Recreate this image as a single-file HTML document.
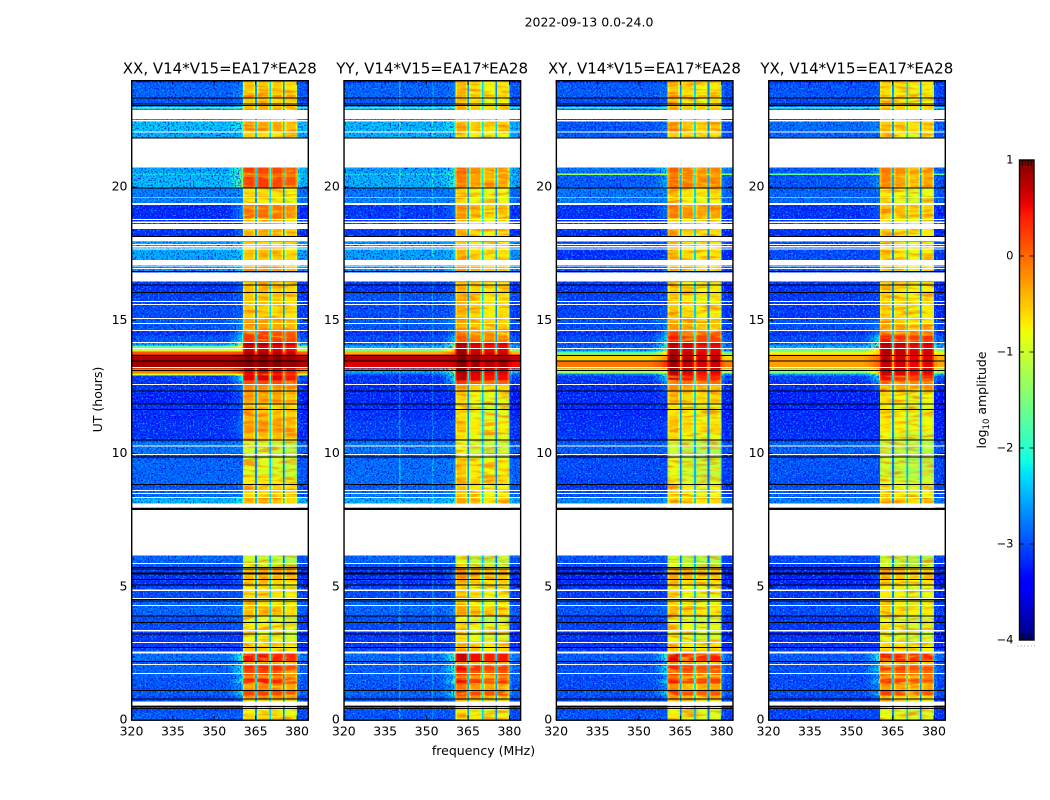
<!DOCTYPE html>
<html>
<head>
<meta charset="utf-8">
<title>2022-09-13 0.0-24.0</title>
<style>
html,body{margin:0;padding:0;background:#fff;width:1050px;height:800px;overflow:hidden}
svg{display:block}
text{font-family:"DejaVu Sans","Liberation Sans",sans-serif;fill:#000}
</style>
</head>
<body>
<svg id="chart" xmlns="http://www.w3.org/2000/svg" width="1050" height="800" viewBox="0 0 1050 800">
<defs>
<filter id="speckleDark" x="0" y="0" width="100%" height="100%" color-interpolation-filters="sRGB">
<feTurbulence type="fractalNoise" baseFrequency="0.6" numOctaves="1" seed="4"/>
<feColorMatrix type="matrix" values="0 0 0 0 0  0 0 0 0 0  0 0 0 0 0.88  4 0 0 0 -1.85"/>
</filter>
<filter id="speckleLight" x="0" y="0" width="100%" height="100%" color-interpolation-filters="sRGB">
<feTurbulence type="fractalNoise" baseFrequency="0.6" numOctaves="1" seed="11"/>
<feColorMatrix type="matrix" values="0 0 0 0 0  0 0 0 0 0.75  0 0 0 0 1  0 4 0 0 -2.05"/>
</filter>
<filter id="bandWarm" x="0" y="0" width="100%" height="100%" color-interpolation-filters="sRGB">
<feTurbulence type="fractalNoise" baseFrequency="0.05 0.28" numOctaves="2" seed="7"/>
<feColorMatrix type="matrix" values="0 0 0 0 1  0 0 0 0 0.35  0 0 0 0 0  3.5 0 0 0 -1.6"/>
</filter>
<filter id="bandCool" x="0" y="0" width="100%" height="100%" color-interpolation-filters="sRGB">
<feTurbulence type="fractalNoise" baseFrequency="0.05 0.28" numOctaves="2" seed="19"/>
<feColorMatrix type="matrix" values="0 0 0 0 0.95  0 0 0 0 1  0 0 0 0 0.1  0 3.5 0 0 -1.85"/>
</filter>
</defs>
<text x="589" y="26.5" font-size="12.5" text-anchor="middle">2022-09-13 0.0-24.0</text>
<text x="0" y="0" font-size="12.5" text-anchor="middle" transform="translate(102 399.5) rotate(-90)">UT (hours)</text>
<text x="483.5" y="755" font-size="12.5" text-anchor="middle">frequency (MHz)</text>
<text x="0" y="0" font-size="12.5" text-anchor="middle" transform="translate(986 400) rotate(-90)">log<tspan font-size="8.5" dy="3">10</tspan><tspan dy="-3"> amplitude</tspan></text>
<g id="panels"></g>
<g id="colorbar"></g>
</svg>
<script>
// Axis domains
const freqMin = 320, freqMax = 384, hourMin = 0, hourMax = 24, levelMin = -4, levelMax = 1;
const freqTicks = [320, 335, 350, 365, 380];
const hourTicks = [0, 5, 10, 15, 20];
const levelTicks = [1, 0, -1, -2, -3, -4];
const panelTitles = ['XX, V14*V15=EA17*EA28', 'YY, V14*V15=EA17*EA28', 'XY, V14*V15=EA17*EA28', 'YX, V14*V15=EA17*EA28'];

// Time rows (start hour of each row)
const rowStartHours = [
0,.28,.51,.73,.92,1.11,1.37,1.56,1.67,1.86,
2.05,2.20,2.57,2.87,3.21,3.36,3.62,3.88,4.26,4.56,
4.86,5.05,5.27,5.50,5.72,5.83,6.17,7.88,8.13,8.35,
8.65,8.84,9.10,9.81,10.0,10.45,10.79,11.24,11.61,11.84,
12.29,12.59,12.74,12.93,13.0,13.19,13.45,13.71,13.83,13.94,
14.05,14.17,14.43,14.58,14.84,15.07,15.57,16.02,16.28,16.43,
16.83,17.07,17.26,17.63,17.94,18.14,18.43,18.61,18.84,19.32,
19.40,19.62,19.96,20.37,20.45,20.51,20.73,21.82,22.10,22.45,
22.55,22.89,22.95,23.0,23.11,23.35,23.45,23.9];

// Frequency channels
const channelEdges = [320,330,340,340.5,350,352,352.5,354,355,356,357,358,359,360,360.4,361,364.2,364.8,365.4,366,369.4,370,370.6,371.2,374.4,374.9,375.5,376.1,379.4,380,381,384];
const channelBand = [0,0,0,0,0,0,0,0,0,0,0,0,0,0, 1,1,1,-1, 2,2,2,-1, 3,3,3,-1, 4,4,4, 0,0];
const channelTrim = [0,0,0,0,0,0,0,0,0,0,0,0,0,0, -.3,0,-.3,-.1, -.3,0,-.3,.2, -.3,0,-.3,-.2, -.3,0,-.4, -.05,-.1];
const channelLeak = [0,0,0,0,0,0,0,.02,.1,.2,.35,.5,.7,.95, 0,0,0,0, 0,0,0,0, 0,0,0,0, 0,0,0, .35,.12];

// log10 amplitude read per row: XX
const xxBackground = [
-2.75,-2.85,-2.9,-2.85,-2.75,-2.8,-2.8,-2.75,-2.7,-2.7,
-2.7,-2.65,-2.95,-2.95,-2.95,-2.85,-2.85,-2.7,-2.7,-2.85,
-2.9,-3,-3,-2.95,-2.8,-2.7,-3,-2.2,-2.2,-2.65,
-2.8,-2.7,-2.7,-2.85,-2.6,-3,-3,-3.05,-3,-3.1,
-3,-3,-2.95,-1,-.1,.85,.8,.1,-1,-1.7,
-2.4,-2.8,-3,-2.8,-2.75,-2.85,-2.9,-3,-2.9,-3,
-2.4,-3,-2.3,-2.3,-3,-3,-3,-3,-3.05,-3,
-2.5,-2.55,-2.2,-2.25,-2,-2.3,-3,-2.25,-2.15,-2.4,
-3,-2.4,-1.6,-2.45,-2.8,-2.7,-2.7,-2.9];
const xxBand = [
-.75,-.9,-1,-.4,.15,-.3,.35,-.3,.1,.25,
-.5,.4,-.7,-.9,-1,-.8,-1,-.55,-.8,-.75,
-.85,-.6,-.5,-.4,-1,-1.15,-3,-.5,-.5,-.7,
-.6,-.8,-1,-1.1,-1.1,-.55,-.35,-.5,-.6,-.4,
-.3,.1,.5,.4,.5,.95,.95,.7,.55,.5,
.7,.2,.15,-.4,-.4,-.65,-.6,-.55,-.6,-3,
-.4,-3,-.55,-.7,-3,-.45,-3,-.6,-.15,-3,
-.8,-.7,.15,-.1,-.1,.15,-3,-.75,-.4,-.7,
-3,-.5,-.5,-.55,-.65,-.3,-.6,-.5];
const xxBandOffset = [.1, .1, .05, -.05];

// YY
const yyBackground = [
-2.8,-2.8,-2.9,-2.8,-2.7,-2.8,-2.75,-2.75,-2.7,-2.7,
-2.7,-2.65,-2.95,-2.95,-3,-2.85,-2.85,-2.7,-2.7,-2.85,
-2.9,-3,-3,-3,-2.8,-2.7,-3,-2.25,-2.25,-2.6,
-2.75,-2.65,-2.65,-2.8,-2.6,-2.9,-2.9,-3,-3.05,-3.05,
-3.05,-3,-3,-2.8,-2.3,.6,.75,-.4,-1.5,-2.2,
-2.7,-2.85,-3,-2.8,-2.75,-2.85,-2.8,-3,-2.9,-3,
-2.4,-3,-2.35,-2.4,-3,-2.95,-3,-2.95,-2.95,-3,
-2.5,-2.6,-2.25,-2.3,-2,-2.35,-3,-2.25,-2.2,-2.4,
-3,-2.4,-1.8,-2.45,-2.75,-2.7,-2.7,-2.9];
const yyBand = [
-.7,-.85,-1,-.3,.2,-.25,.35,-.3,.15,.3,
-.45,.5,-.6,-.85,-1,-.8,-1,-.5,-.75,-.7,
-.8,-.55,-.45,-.35,-1,-1.1,-3,-.5,-.5,-.7,
-.7,-.55,-.7,-1,-1,-.85,-.7,-.85,-.9,-.8,
-.55,.1,.55,.6,.65,.9,.9,.7,.6,.55,
.65,-.1,-.3,-.5,-.5,-.6,-.6,-.6,-.6,-3,
-.45,-3,-.6,-.7,-3,-.6,-3,-.7,-.45,-3,
-.8,-.75,-.3,-.35,-.3,-.2,-3,-.75,-.5,-.7,
-3,-.55,-.55,-.6,-.7,-.5,-.65,-.6];
const yyBandOffset = [.2, 0, -.1, -.05];
const yySpurChannels = [2, 5];
const yySpurLevels = [.5, .35];

// XY
const xyBackground = [
-2.8,-2.85,-2.95,-2.85,-2.8,-2.85,-2.85,-2.85,-2.8,-2.8,
-2.8,-2.75,-3,-3,-3.05,-2.9,-2.95,-2.8,-2.8,-2.95,
-3,-3.05,-3.1,-3.05,-2.9,-2.8,-3,-2.5,-2.5,-2.8,
-2.95,-2.9,-2.85,-2.95,-2.75,-2.95,-3,-3.05,-3.05,-3.05,
-3.05,-3,-2.95,-2.5,-1.3,-.05,-.55,-1.8,-2.4,-2.7,
-2.8,-2.85,-3,-2.85,-2.8,-2.9,-2.9,-3,-2.95,-3,
-2.8,-3,-3,-2.8,-3,-3,-3,-3,-3,-3,
-2.55,-2.6,-2.75,-2.7,-1.3,-2.6,-3,-2.75,-2.8,-2.9,
-3,-2.6,-1.8,-2.65,-2.85,-2.75,-2.75,-2.95];
const xyBand = [
-.9,-1,-1,-.5,.1,-.4,.25,-.35,.05,.2,
-.45,.4,-.7,-.95,-1,-.85,-1,-.65,-.85,-.85,
-.85,-.65,-.5,-.4,-1.05,-1.2,-3,-.6,-.6,-.8,
-.8,-1,-1.05,-1.2,-1.2,-.85,-.65,-.8,-.85,-.6,
-.4,-.1,.4,.5,.55,.7,.7,.6,.55,.5,
.6,.25,.05,-.45,-.5,-.7,-.75,-.7,-.75,-3,
-.6,-3,-.65,-.7,-3,-.65,-3,-.75,-.3,-3,
-.8,-.65,-.2,-.3,-.3,-.15,-3,-.7,-.5,-.8,
-3,-.55,-.55,-.6,-.75,-.4,-.7,-.55];
const xyBandOffset = [.2, .05, -.05, 0];

// YX
const yxBackground = [
-2.9,-2.9,-3,-2.9,-2.85,-2.85,-2.85,-2.85,-2.8,-2.8,
-2.8,-2.75,-3,-3,-3.1,-2.95,-3,-2.85,-2.85,-2.95,
-3,-3.1,-3.1,-3.05,-2.95,-2.85,-3,-2.55,-2.55,-2.75,
-2.8,-2.85,-2.8,-2.85,-2.7,-3,-3.05,-3.05,-3.1,-3.1,
-3.05,-3,-2.9,-2.3,-1.5,-.3,-.3,-.9,-1.6,-2.2,
-2.6,-2.85,-3,-2.85,-2.8,-2.95,-2.95,-3,-2.95,-3,
-2.75,-3,-2.85,-2.8,-3,-3,-3,-2.95,-3,-3,
-2.65,-2.7,-2.8,-2.85,-1.7,-2.75,-3,-2.7,-2.65,-2.85,
-3,-2.55,-1.8,-2.6,-2.85,-2.8,-2.8,-2.95];
const yxBand = [
-.95,-1,-1,-.6,.1,-.4,.2,-.4,0,.15,
-.5,.35,-.75,-1,-1.05,-.9,-1,-.7,-.85,-.85,
-.9,-.7,-.55,-.45,-1.05,-1.2,-3,-.6,-.6,-.8,
-.9,-1,-1.15,-1.2,-1.2,-1,-.8,-.85,-.9,-.8,
-.4,-.1,.35,.5,.55,.6,.6,.65,.6,.55,
.65,.3,-.1,-.4,-.6,-.7,-.7,-.7,-.75,-3,
-.7,-3,-.75,-.8,-3,-.7,-3,-.8,-.55,-3,
-.95,-.85,-.35,-.4,-.4,-.25,-3,-.8,-.6,-.85,
-3,-.6,-.6,-.65,-.8,-.5,-.75,-.6];
const yxBandOffset = [.15, .05, -.05, 0];

// Flagged time ranges (blank rows) as start and end hours
const flagStartHours = [.55,1.73,2.07,2.50,2.89,3.33,4.28,4.54,4.85,5.85,6.17,7.97,8.33,8.48,8.59,9.94,10.26,12.57,13.21,13.92,14.15,14.60,14.86,15.05,15.57,15.68,16.45,16.92,17.02,17.07,17.65,17.74,17.83,17.95,18.42,18.66,18.76,19.32,19.60,20.73,22.04,22.47,22.55];
const flagEndHours = [.70,1.77,2.11,2.57,2.93,3.37,4.32,4.58,4.89,5.89,7.88,8.13,8.37,8.52,8.63,9.98,10.30,12.61,13.25,13.96,14.19,14.63,14.90,15.09,15.61,15.72,16.79,16.96,17.06,17.26,17.69,17.78,17.87,18.12,18.61,18.71,18.81,19.40,19.63,21.82,22.09,22.51,22.89];
// Fully dropped integrations, drawn as dark lines
const blankLineHours = [23.98,23.35,23.11,23.07,21.84,19.96,18.14,16.83,16.32,16.05,13.68,13.47,13.11,12.35,11.85,11.66,10.50,9.87,8.84,7.94,7.90,5.72,5.67,5.52,5.47,5.28,5.07,4.53,4.47,3.90,3.65,3.22,2.73,2.19,1.11,.78,.50,.44];

const backgrounds = [xxBackground, yyBackground, xyBackground, yxBackground];
const bandLevels = [xxBand, yyBand, xyBand, yxBand];
const bandOffsets = [xxBandOffset, yyBandOffset, xyBandOffset, yxBandOffset];
const quietShift = -.15, notchBase = -2.55;

const NS = 'http://www.w3.org/2000/svg';
function mk(tag, attrs, parent, txt) {
  const e = document.createElementNS(NS, tag);
  for (const k in attrs) e.setAttribute(k, attrs[k]);
  if (txt !== undefined) e.textContent = txt;
  parent.appendChild(e);
  return e;
}
function lerpTable(t, xs, ys) {
  if (t <= xs[0]) return ys[0];
  for (let i = 1; i < xs.length; i++) if (t <= xs[i]) return ys[i-1] + (ys[i]-ys[i-1])*(t-xs[i-1])/(xs[i]-xs[i-1]);
  return ys[ys.length-1];
}
function jet(v) {
  const t = Math.max(0, Math.min(1, (v - levelMin) / (levelMax - levelMin)));
  const r = lerpTable(t, [0,.35,.66,.89,1], [0,0,1,1,.5]);
  const g = lerpTable(t, [0,.125,.375,.64,.91,1], [0,0,1,1,0,0]);
  const b = lerpTable(t, [0,.11,.34,.65,1], [.5,1,1,0,0]);
  return 'rgb(' + Math.round(r*255) + ',' + Math.round(g*255) + ',' + Math.round(b*255) + ')';
}
const plotTop = 80.5, plotBottom = 720, plotWidth = 176.6, firstLeft = 131.5, panelStep = 212.33;
function panelLeft(p) { return firstLeft + p*panelStep; }
function xScale(p, f) { return panelLeft(p) + (f - freqMin)/(freqMax - freqMin)*plotWidth; }
function yScale(h) { return plotBottom - (h - hourMin)/(hourMax - hourMin)*(plotBottom - plotTop); }
function cellLevel(p, r, c) {
  const rawBg = backgrounds[p][r], band = bandLevels[p][r], kind = channelBand[c];
  const bg = rawBg < -1.9 ? rawBg + quietShift : rawBg;
  if (kind > 0) return Math.max(bg, band + bandOffsets[p][kind-1] + channelTrim[c]);
  if (kind < 0) return Math.max(bg, notchBase + .35*(band + .7) + channelTrim[c]);
  const leakScale = rawBg > 0 ? .05 : (rawBg > -1.5 ? .3 : 1);
  let v = bg + channelTrim[c] + channelLeak[c]*leakScale*Math.max(0, band + .8);
  if (p === 1) { const s = yySpurChannels.indexOf(c); if (s >= 0 && rawBg < -1.9) v += yySpurLevels[s]; }
  return v;
}

const panelsGroup = document.getElementById('panels');
const defs = document.querySelector('defs');
const polNames = ['xx', 'yy', 'xy', 'yx'];
panelTitles.forEach(function (title, p) {
  const pol = polNames[p];
  const g = mk('g', {}, panelsGroup);
  
  

  const t = mk('text', {x: panelLeft(p) + plotWidth/2, y: 73.5, 'font-size': 15, 'text-anchor': 'middle'}, g, title);
  
  

  // heatmap cells
  const cells = mk('g', {'shape-rendering': 'crispEdges'}, g);
  
  
  rowStartHours.forEach(function (start, r) {
    const end = r + 1 < rowStartHours.length ? rowStartHours[r+1] : hourMax;
    for (let c = 0; c < channelBand.length; c++) {
      const x0 = xScale(p, channelEdges[c]), x1 = xScale(p, channelEdges[c+1]);
      const y0 = yScale(end), y1 = yScale(start);
      const cell = mk('rect', {x: x0, y: y0, width: x1 - x0, height: y1 - y0, fill: jet(cellLevel(p, r, c))}, cells);
      
      
    }
  });

  // speckle over quiet off-band rows only
  const clip = mk('clipPath', {id: 'quiet' + p}, defs);
  
  
  const bandClip = mk('clipPath', {id: 'bandzone' + p}, defs);
  
  
  rowStartHours.forEach(function (start, r) {
    const end = r + 1 < rowStartHours.length ? rowStartHours[r+1] : hourMax;
    const top = yScale(end), h = yScale(start) - yScale(end);
    if (backgrounds[p][r] <= -1.9) {
      const a = mk('rect', {x: xScale(p, freqMin), y: top, width: xScale(p, 360) - xScale(p, freqMin), height: h}, clip);
      
      
      const b = mk('rect', {x: xScale(p, 380.3), y: top, width: xScale(p, freqMax) - xScale(p, 380.3), height: h}, clip);
      
      
    }
    if (bandLevels[p][r] < .5 && bandLevels[p][r] > -2.5) {
      for (let c = 0; c < channelBand.length; c++) {
        if (channelBand[c] <= 0) continue;
        const z = mk('rect', {x: xScale(p, channelEdges[c]), y: top, width: xScale(p, channelEdges[c+1]) - xScale(p, channelEdges[c]), height: h}, bandClip);
        
        
      }
    }
  });
  const sg = mk('g', {'clip-path': 'url(#quiet' + p + ')'}, g);
  
  
  ['speckleDark', 'speckleLight'].forEach(function (f) {
    const s = mk('rect', {x: panelLeft(p), y: plotTop, width: plotWidth, height: plotBottom - plotTop, filter: 'url(#' + f + ')', opacity: .85}, sg);
    
    
  });
  const bt = mk('g', {'clip-path': 'url(#bandzone' + p + ')'}, g);
  
  
  ['bandWarm', 'bandCool'].forEach(function (f) {
    const s = mk('rect', {x: panelLeft(p), y: plotTop, width: plotWidth, height: plotBottom - plotTop, filter: 'url(#' + f + ')', opacity: .6}, bt);
    
    
  });

  // flagged rows
  const fg = mk('g', {'shape-rendering': 'crispEdges', fill: '#fff'}, g);
  
  
  flagStartHours.forEach(function (s, i) {
    const f = mk('rect', {x: panelLeft(p), y: yScale(flagEndHours[i]), width: plotWidth, height: yScale(s) - yScale(flagEndHours[i])}, fg);
    
    
  });
  const lg = mk('g', {'shape-rendering': 'crispEdges', fill: '#000'}, g);
  
  
  blankLineHours.forEach(function (h) {
    const l = mk('rect', {x: panelLeft(p), y: yScale(h) - .5, width: plotWidth, height: 1}, lg);
    
    
  });

  // frame
  const frame = mk('rect', {x: panelLeft(p) + .2, y: plotTop + .2, width: plotWidth, height: plotBottom - plotTop, fill: 'none', stroke: '#000', 'stroke-width': 1.4}, g);
  
  

  // ticks and labels
  freqTicks.forEach(function (f) {
    const x = xScale(p, f);
    const a = mk('line', {x1: x, x2: x, y1: plotBottom, y2: plotBottom - 4.5, stroke: '#000', 'stroke-width': .8}, g);
    
    
    const b = mk('line', {x1: x, x2: x, y1: plotTop, y2: plotTop + 4.5, stroke: '#000', 'stroke-width': .8}, g);
    
    
    const lab = mk('text', {x: x, y: 735.5, 'font-size': 12.5, 'text-anchor': 'middle'}, g, String(f));
    
    
  });
  hourTicks.forEach(function (h) {
    const y = yScale(h);
    const a = mk('line', {x1: panelLeft(p), x2: panelLeft(p) + 4.5, y1: y, y2: y, stroke: '#000', 'stroke-width': .8}, g);
    
    
    const b = mk('line', {x1: panelLeft(p) + plotWidth, x2: panelLeft(p) + plotWidth - 4.5, y1: y, y2: y, stroke: '#000', 'stroke-width': .8}, g);
    
    
    const lab = mk('text', {x: panelLeft(p) - 4, y: y + 3.5, 'font-size': 12.5, 'text-anchor': 'end'}, g, String(h));
    
    
  });
});

// Colorbar
const cbLeft = 1019.5, cbWidth = 14.5, cbTop = 160, cbBottom = 640;
function cbY(v) { return cbBottom - (v - levelMin)/(levelMax - levelMin)*(cbBottom - cbTop); }
const cb = document.getElementById('colorbar');
const ramp = mk('g', {'shape-rendering': 'crispEdges'}, cb);


for (let py = cbTop; py < cbBottom; py++) {
  const v = levelMax - (py + .5 - cbTop)/(cbBottom - cbTop)*(levelMax - levelMin);
  const s = mk('rect', {x: cbLeft, y: py, width: cbWidth, height: 1, fill: jet(v)}, ramp);
  
  
}
const cbFrame = mk('rect', {x: cbLeft, y: cbTop, width: cbWidth, height: cbBottom - cbTop, fill: 'none', stroke: '#000', 'stroke-width': 1.4}, cb);


levelTicks.forEach(function (v) {
  const y = cbY(v);
  const a = mk('line', {x1: cbLeft, x2: cbLeft + 4.5, y1: y, y2: y, stroke: '#000', 'stroke-width': .8}, cb);
  
  
  const b = mk('line', {x1: cbLeft + cbWidth, x2: cbLeft + cbWidth - 4.5, y1: y, y2: y, stroke: '#000', 'stroke-width': .8}, cb);
  
  
  const lab = mk('text', {x: 1013.5, y: y + 3.5, 'font-size': 11.5, 'text-anchor': 'end'}, cb, v < 0 ? '\u2212' + Math.abs(v) : String(v));
  
  
});
for (let i = 1; i < 5; i++) {
  const x = cbLeft + i/5*cbWidth;
  const a = mk('line', {x1: x, x2: x, y1: cbTop, y2: cbTop + 6, stroke: '#000', 'stroke-width': .8}, cb);
  
  
  const b = mk('line', {x1: x, x2: x, y1: cbBottom, y2: cbBottom - 6, stroke: '#000', 'stroke-width': .8}, cb);
  
  
}
for (let i = 0; i < 6; i++) {
  const d = mk('rect', {x: 1017.5 + i*3.3, y: 645.5, width: 1, height: 1, fill: '#999'}, cb);
  
  
}
</script>
</body>
</html>
